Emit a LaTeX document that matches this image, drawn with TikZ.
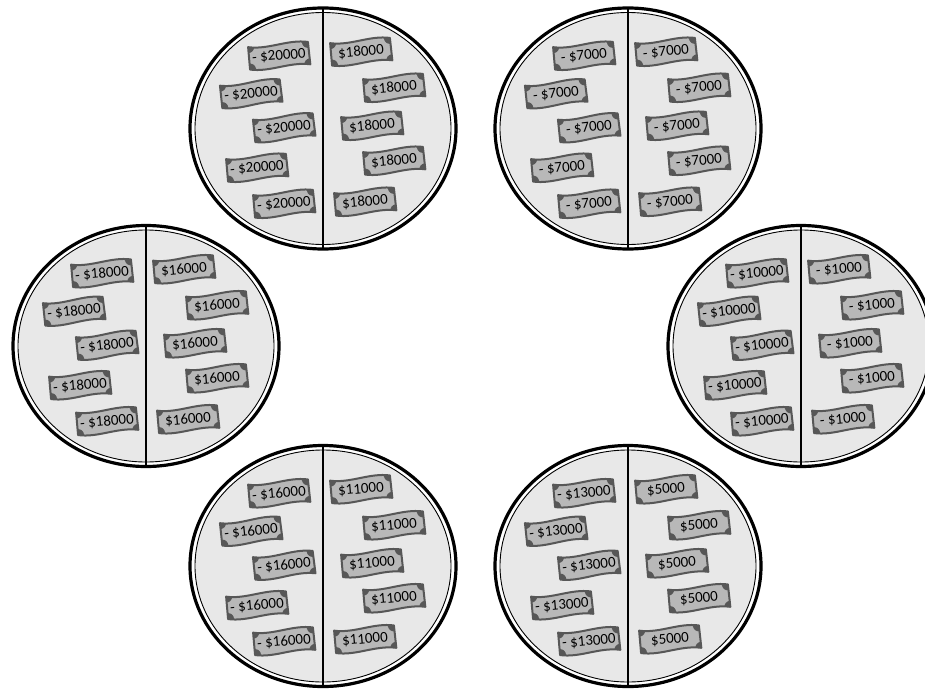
\documentclass[tikz,border=0pt]{standalone}
\usepackage{fontspec}
\setmainfont{Carlito}
\definecolor{billgrey}{gray}{0.72}
\definecolor{billedge}{gray}{0.34}
\definecolor{discgrey}{gray}{0.91}
\tikzset{
  billshape/.style={fill=billgrey,draw=billedge,line width=2pt,line join=round},
  cornerdot/.style={fill=billedge,draw=none},
  billtext/.style={font=\fontsize{15}{16}\selectfont,text=black,inner sep=0pt},
  discout/.style={draw=black,line width=3.2pt,fill=white},
  discin/.style={draw=black,line width=0.9pt,fill=discgrey},
  divider/.style={draw=black,line width=2.4pt}
}
\newcommand{\billpath}{(-30,-11.5) .. controls (-10,-7) and (10,-16) .. (30,-11.5)
       -- (30.5,11) .. controls (10,6.5) and (-10,15.5) .. (-30,11) -- cycle}
\newcommand{\bill}[4]{% x y rot text
  \begin{scope}[shift={(#1,#2)},rotate=#3]
    \path[billshape] \billpath;
    \begin{scope}
      \clip \billpath;
      \foreach \cx/\cy in {-30/-11.5,30/-11.5,-30/11,30.5/11}
        \path[cornerdot] (\cx,\cy) circle (6);
    \end{scope}
    \node[billtext,rotate=#3] at (0,0) {#4};
  \end{scope}}
\newcommand{\disc}[4]{% cx cy left right
  \begin{scope}[shift={(#1,#2)}]
    \path[discout] (0,0) ellipse (133 and 120.5);
    \path[discin] (0,0) ellipse (128 and 116);
    \path[divider] (0,-120) -- (0,120);
    \bill{-44}{-72.5}{5}{#3}
    \bill{-72}{-34.5}{6}{#3}
    \bill{-39}{-0.5}{6}{#3}
    \bill{-66}{39.5}{5}{#3}
    \bill{-39}{75.5}{5}{#3}
    \bill{38}{-76.5}{5}{#4}
    \bill{71}{-40.5}{5}{#4}
    \bill{49}{-2.5}{5}{#4}
    \bill{71}{32.5}{5}{#4}
    \bill{42}{73.5}{5}{#4}
  \end{scope}}
\begin{document}
\begin{tikzpicture}[x=1pt,y=-1pt]
  \useasboundingbox (0,0) rectangle (925,690);
  \disc{323}{128.5}{- \$20000}{\$18000}
  \disc{628}{128.5}{- \$7000}{- \$7000}
  \disc{146}{346}{- \$18000}{\$16000}
  \disc{801}{346}{- \$10000}{- \$1000}
  \disc{323}{566}{- \$16000}{\$11000}
  \disc{628}{566}{- \$13000}{\$5000}
\end{tikzpicture}
\end{document}
